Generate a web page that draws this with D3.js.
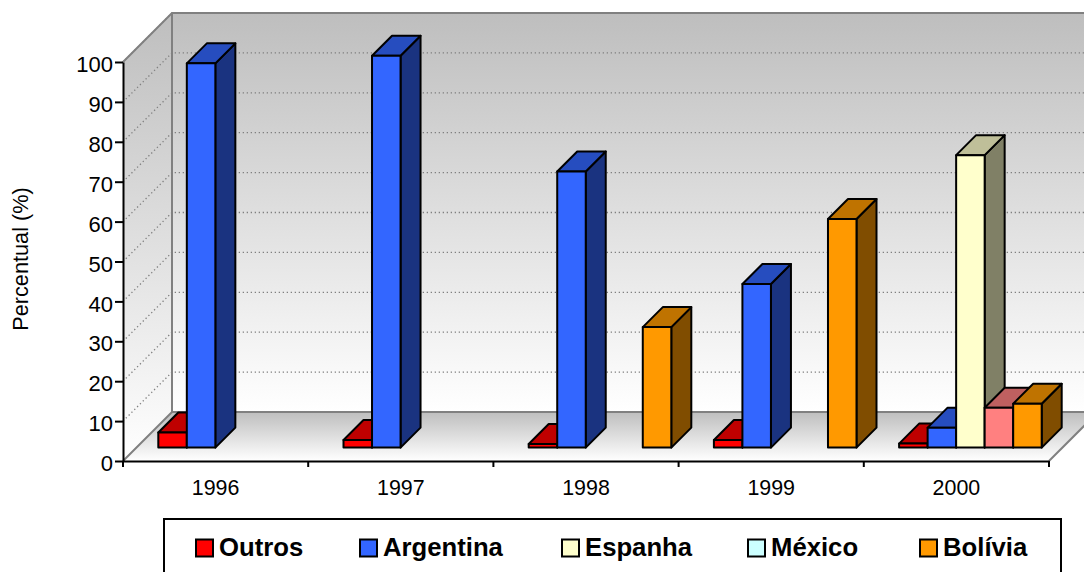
<!DOCTYPE html>
<html>
<head>
<meta charset="utf-8">
<script src="https://cdn.jsdelivr.net/npm/d3@7/dist/d3.min.js"></script>
<style>
html,body{margin:0;padding:0;background:#fff;overflow:hidden}
svg{display:block}
text{font-family:"Liberation Sans",Arial,sans-serif;fill:#000}
</style>
</head>
<body>
<svg id="chart" width="1084" height="572"></svg>
<script>
// Percentual share per year and country
const years = ["1996", "1997", "1998", "1999", "2000"];
const seriesNames = ["Outros", "Argentina", "Espanha", "México", "Bolívia"];
const outros = [3.8, 1.9, 0.9, 1.9, 1];
const argentina = [96.3, 98.2, 69.2, 41, 5];
const espanha = [0, 0, 0, 0, 73.3];
const mexico = [0, 0, 0, 0, 10];
const bolivia = [0, 0, 30.2, 57.3, 11];
const seriesValues = [outros, argentina, espanha, mexico, bolivia];
const yTicks = [0, 10, 20, 30, 40, 50, 60, 70, 80, 90, 100];

const seriesColors = ["#ff0000", "#3366ff", "#ffffcc", "#ccffff", "#ff9900"];
// The 2000 México column carries its own fill
const pointColors = {"3-4": "#ff8080"};

const svg = d3.select("#chart");
const width = 1084, height = 572;
const plotLeft = 123, plotRight = 1049, plotBottom = 461, plotTop = 62;
const wallDepth = 49, barOffsetX = 14, barOffsetY = 13.4, barDepth = 20;

const x = d3.scaleBand().domain(years).range([plotLeft, plotRight]);
const slot = d3.scaleBand().domain(d3.range(seriesNames.length))
  .range([21.3, x.bandwidth() - 21.3]);
const y = d3.scaleLinear().domain([0, 100]).range([plotBottom, plotTop]);

const defs = svg.append("defs");
function grad(id, y1, y2, c1, c2) {
  const g = defs.append("linearGradient").attr("id", id)
    .attr("gradientUnits", "userSpaceOnUse")
    .attr("x1", 0).attr("x2", 0).attr("y1", y1).attr("y2", y2);
  g.append("stop").attr("offset", 0).attr("stop-color", c1);
  g.append("stop").attr("offset", 1).attr("stop-color", c2);
}
grad("wallBack", y(100) - wallDepth, y(0) - wallDepth, "#bebebe", "#ffffff");
grad("wallLeft", y(100) - wallDepth, y(0), "#bebebe", "#ffffff");
grad("floor", y(0) - wallDepth, y(0), "#bebebe", "#ffffff");
const clip = defs.append("clipPath").attr("id", "page");
clip.append("rect").attr("width", width).attr("height", height);

const poly = pts => pts.map(p => p.join(",")).join(" ");
const plot = svg.append("g").attr("clip-path", "url(#page)");

// Walls and floor of the 3D box
plot.append("polygon")
  .attr("points", poly([[plotLeft + wallDepth, y(100) - wallDepth], [plotRight + wallDepth, y(100) - wallDepth], [plotRight + wallDepth, y(0) - wallDepth], [plotLeft + wallDepth, y(0) - wallDepth]]))
  .attr("fill", "url(#wallBack)");
plot.append("polygon")
  .attr("points", poly([[plotLeft, y(100)], [plotLeft + wallDepth, y(100) - wallDepth], [plotLeft + wallDepth, y(0) - wallDepth], [plotLeft, y(0)]]))
  .attr("fill", "url(#wallLeft)");
plot.append("polygon")
  .attr("points", poly([[plotLeft, y(0)], [plotLeft + wallDepth, y(0) - wallDepth], [plotRight + wallDepth, y(0) - wallDepth], [plotRight, y(0)]]))
  .attr("fill", "url(#floor)");

// Dotted gridlines across both walls
const grid = plot.append("g").attr("fill", "none").attr("stroke", "#808080")
  .attr("stroke-width", 1.3).attr("stroke-dasharray", "1.3 2.7");
yTicks.filter(t => t > 0).forEach(t => {
  grid.append("path").attr("d", d3.line()([[plotLeft, y(t)], [plotLeft + wallDepth, y(t) - wallDepth], [plotRight + wallDepth, y(t) - wallDepth]]));
});

// Box edges
const edges = plot.append("g").attr("fill", "none").attr("stroke", "#808080").attr("stroke-width", 2);
edges.append("path").attr("d", d3.line()([[plotLeft, y(100)], [plotLeft + wallDepth, y(100) - wallDepth], [plotRight + wallDepth, y(100) - wallDepth]]));
edges.append("path").attr("d", d3.line()([[plotLeft + wallDepth, y(100) - wallDepth], [plotLeft + wallDepth, y(0) - wallDepth]]));
edges.append("path").attr("d", d3.line()([[plotLeft, y(0)], [plotLeft + wallDepth, y(0) - wallDepth], [plotRight + wallDepth, y(0) - wallDepth]]));
edges.append("path").attr("d", d3.line()([[plotRight, y(0)], [plotRight + wallDepth, y(0) - wallDepth]]));

// Columns, drawn left to right so later ones overlap earlier sides
const shade = (c, k) => {
  const rgb = d3.rgb(c);
  return d3.rgb(rgb.r * k, rgb.g * k, rgb.b * k).formatHex();
};
const bars = plot.append("g").attr("stroke", "#000").attr("stroke-width", 2).attr("stroke-linejoin", "round");
years.forEach((yr, yi) => {
  seriesValues.forEach((vals, si) => {
    const v = vals[yi];
    if (!v) return;
    const c = pointColors[`${si}-${yi}`] || seriesColors[si];
    const x0 = x(yr) + slot(si) + barOffsetX, x1 = x0 + slot.bandwidth();
    const yb = y(0) - barOffsetY, yt = yb - (y(0) - y(v));
    const d = barDepth;
    bars.append("polygon").attr("fill", shade(c, 0.5))
      .attr("points", poly([[x1, yt], [x1 + d, yt - d], [x1 + d, yb - d], [x1, yb]]));
    bars.append("polygon").attr("fill", shade(c, 0.75))
      .attr("points", poly([[x0, yt], [x0 + d, yt - d], [x1 + d, yt - d], [x1, yt]]));
    bars.append("rect").attr("fill", c)
      .attr("x", x0).attr("y", yt).attr("width", x1 - x0).attr("height", yb - yt);
  });
});

// Value axis
const yAxis = d3.axisLeft(y).tickValues(yTicks).tickSize(8).tickPadding(2).tickSizeOuter(0);
const gy = svg.append("g").attr("transform", `translate(${plotLeft},0)`).call(yAxis);
gy.selectAll("text").style("font-size", "22px").style("font-family", '"Liberation Sans"').attr("dy", "0.44em");
gy.selectAll("line,path").attr("stroke", "#000").attr("stroke-width", 2);

// Category axis: labels centred in each band, ticks on the band edges
const gx = svg.append("g").attr("transform", `translate(0,${plotBottom})`);
gx.call(d3.axisBottom(x).tickSize(0).tickPadding(19).tickSizeOuter(0));
gx.selectAll("text").style("font-size", "21.4px").style("font-family", '"Liberation Sans"');
gx.select("path").attr("stroke", "#000").attr("stroke-width", 2);
gx.selectAll(".edge").data(years.map(yr => x(yr)).concat(plotRight)).enter().append("line")
  .attr("class", "edge").attr("x1", d => d).attr("x2", d => d).attr("y1", 0).attr("y2", 6)
  .attr("stroke", "#000").attr("stroke-width", 2);

svg.append("text").attr("transform", "translate(28,259) rotate(-90)")
  .attr("text-anchor", "middle").style("font-size", "21.7px").text("Percentual (%)");

// Legend
const legendX = [196, 360, 562, 748, 920];
const legend = svg.append("g");
legend.append("rect").attr("x", 164).attr("y", 519).attr("width", 897).attr("height", 70)
  .attr("fill", "#fff").attr("stroke", "#000").attr("stroke-width", 2);
seriesNames.forEach((name, i) => {
  legend.append("rect").attr("x", legendX[i]).attr("y", 539.5).attr("width", 17).attr("height", 17)
    .attr("fill", seriesColors[i]).attr("stroke", "#000").attr("stroke-width", 2);
  legend.append("text").attr("x", legendX[i] + 23).attr("y", 556)
    .style("font-size", "25.7px").style("font-weight", "bold").text(name);
});
</script>
</body>
</html>
